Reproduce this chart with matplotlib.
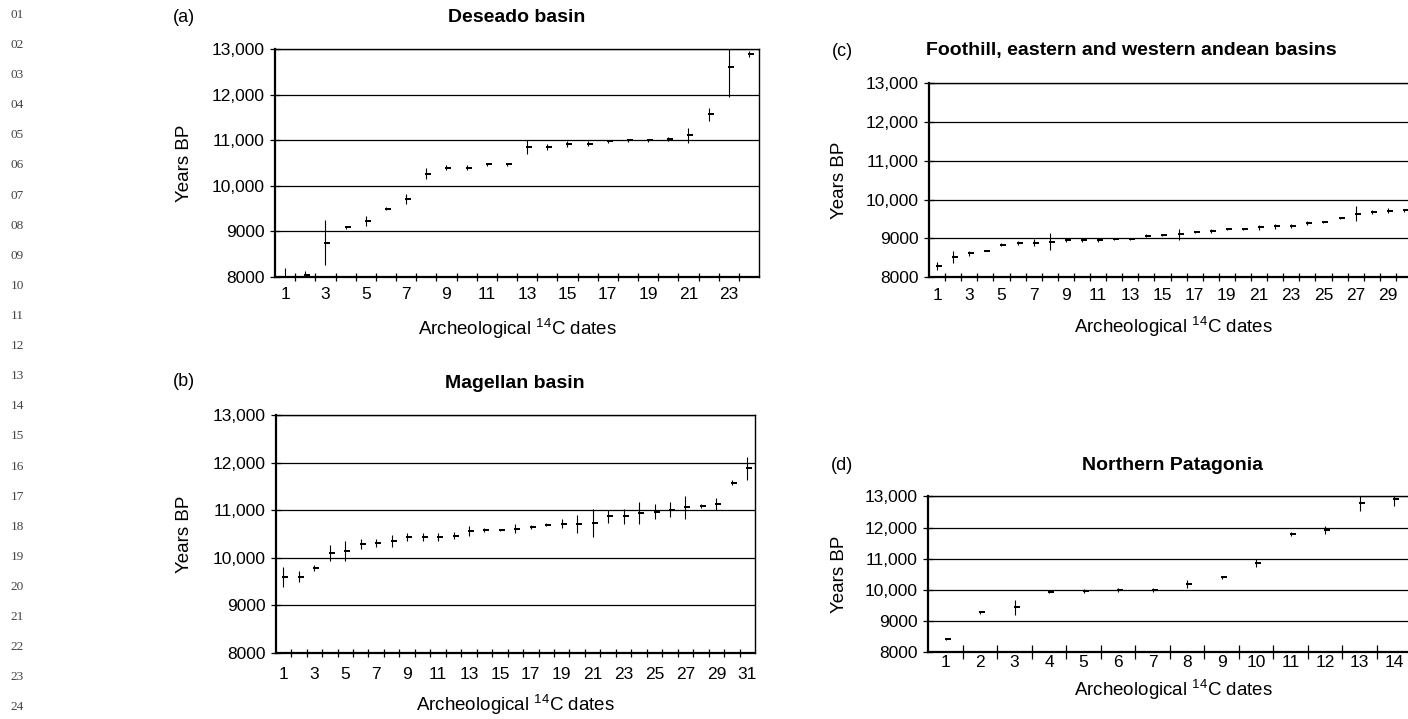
import matplotlib
matplotlib.use("Agg")
import matplotlib.pyplot as plt
import numpy as np

plt.rcParams['font.family'] = ['Liberation Sans', 'DejaVu Sans']
plt.rcParams['mathtext.fontset'] = 'custom'
plt.rcParams['mathtext.rm'] = 'Liberation Sans'
plt.rcParams['mathtext.it'] = 'Liberation Sans:italic'
plt.rcParams['mathtext.bf'] = 'Liberation Sans:bold'

# ---------------- data ----------------
deseado_vals = [7980, 8050, 8750, 9090, 9230, 9500, 9710, 10265, 10400, 10400,
                10470, 10470, 10850, 10855, 10915, 10925, 10975, 11000, 11000,
                11025, 11105, 11570, 12600, 12890]
deseado_err = [220, 80, 490, 30, 110, 25, 110, 120, 60, 60,
               40, 40, 150, 60, 60, 50, 40, 30, 30,
               40, 160, 145, 660, 70]

magellan_vals = [9600, 9600, 9775, 10095, 10140, 10290, 10310, 10350, 10430, 10435,
                 10435, 10465, 10560, 10575, 10580, 10605, 10645, 10695, 10715, 10715,
                 10725, 10865, 10870, 10935, 10970, 11010, 11055, 11090, 11125, 11575,
                 11880]
magellan_err = [210, 110, 60, 165, 210, 110, 80, 135, 80, 80,
                80, 80, 115, 40, 30, 95, 40, 40, 90, 190,
                300, 135, 160, 230, 150, 165, 250, 40, 130, 50,
                245]

foothill_vals = [8300, 8530, 8615, 8690, 8845, 8880, 8890, 8920, 8950, 8950,
                 8950, 8975, 8985, 9070, 9085, 9110, 9155, 9195, 9240, 9250,
                 9290, 9315, 9325, 9400, 9425, 9520, 9640, 9675, 9720, 9725]
foothill_err = [105, 160, 60, 20, 50, 50, 95, 215, 40, 50,
                50, 20, 20, 40, 20, 145, 20, 60, 20, 20,
                60, 60, 60, 40, 20, 20, 190, 50, 60, 40]

northern_vals = [8415, 9280, 9440, 9925, 9965, 10005, 10000, 10180, 10405, 10850,
                 11790, 11910, 12775, 12915]
northern_err = [15, 50, 240, 40, 50, 60, 60, 130, 50, 130,
                50, 130, 255, 235]

ytick_vals = [8000, 9000, 10000, 11000, 12000, 13000]
ytick_labels = ['8000', '9000', '10,000', '11,000', '12,000', '13,000']

titles = ['Deseado basin', 'Magellan basin',
          'Foothill, eastern and western andean basins', 'Northern Patagonia']
panel_letters = ['(a)', '(b)', '(c)', '(d)']
xlabel_text = r'Archeological $^{\mathrm{14}}$C dates'
ylabel_text = 'Years BP'
line_numbers = ['%02d' % i for i in range(1, 25)]

# ---------------- layout ----------------
W, H = 1408, 719
fig = plt.figure(figsize=(W / 100, H / 100), dpi=100)


def pos(l, r, t, b):
    return [l / W, 1 - b / H, (r - l) / W, (b - t) / H]


dash = [(-0.1, -0.28), (1.0, -0.28), (1.0, 0.28), (-0.1, 0.28), (-0.1, -0.28)]


def draw_panel(rect, vals, errs, label_step, label_pad, tick_len):
    ax = fig.add_axes(rect)
    n = len(vals)
    x = np.arange(1, n + 1)
    ax.errorbar(x, vals, yerr=errs, fmt='none', ecolor='black',
                elinewidth=0.8, capsize=0, zorder=3)
    ax.plot(x, vals, linestyle='none', marker=dash, markersize=7.5,
            color='black', markeredgewidth=0, zorder=4)
    ax.set_xlim(0.5, n + 0.5)
    ax.set_ylim(8000, 13000)
    ax.set_yticks(ytick_vals)
    ax.set_yticklabels(ytick_labels, fontsize=12.5)
    ax.yaxis.grid(True, color='black', linewidth=0.9)
    ax.set_axisbelow(True)
    # labels at category centres, tick marks at category boundaries
    lab_pos = x[::label_step]
    ax.set_xticks(lab_pos)
    ax.set_xticklabels([str(v) for v in lab_pos], fontsize=12.5)
    ax.tick_params(axis='x', which='major', length=0, pad=label_pad)
    ax.set_xticks(np.arange(1.5, n, 1.0), minor=True)
    ax.tick_params(axis='x', which='minor', direction='inout',
                   length=tick_len, width=0.9)
    ax.tick_params(axis='y', direction='inout', length=7, width=0.9, pad=4)
    for s in ['left', 'bottom']:
        ax.spines[s].set_linewidth(1.6)
    for s in ['top', 'right']:
        ax.spines[s].set_linewidth(1.0)
    return ax


axA = draw_panel(pos(275, 759, 49, 277), deseado_vals, deseado_err, 2, 7.5, 5.5)
axB = draw_panel(pos(275.7, 755, 415, 652.7), magellan_vals, magellan_err, 2, 10, 5.5)
axC = draw_panel(pos(929, 1412, 83.3, 277.3), foothill_vals, foothill_err, 2, 7.5, 5.5)
axD = draw_panel(pos(928.3, 1411.3, 496.3, 652.3), northern_vals, northern_err, 1, 2, 10)


def ftext(x, y, s, **kw):
    fig.text(x / W, 1 - y / H, s, **kw)


# titles
title_pos = [(517, 17), (515, 383), (1131, 51), (1173, 466)]
for (tx, ty), t in zip(title_pos, titles):
    ftext(tx, ty, t, fontsize=14, fontweight='bold', ha='center', va='center')

# panel letters
letter_pos = [(184, 18), (184, 382), (842, 51), (842, 466)]
for (lx, ly), t in zip(letter_pos, panel_letters):
    ftext(lx, ly, t, fontsize=13, ha='center', va='center')

# x labels
xl_pos = [(517, 329), (515, 705), (1173, 327), (1173, 690)]
for (lx, ly) in xl_pos:
    ftext(lx, ly, xlabel_text, fontsize=13.5, ha='center', va='center')

# y labels
yl_pos = [(185, 163), (185, 534), (840, 180), (840, 574)]
for (lx, ly) in yl_pos:
    ftext(lx, ly, ylabel_text, fontsize=13.5, ha='center', va='center',
          rotation=90)

# page line numbers
for i, s in enumerate(line_numbers):
    ftext(17, 15 + i * 30.1, s, fontsize=9.5, ha='center', va='center',
          family=['Liberation Serif', 'DejaVu Serif'], color='#444444')

fig.savefig('out.png', dpi=100)
